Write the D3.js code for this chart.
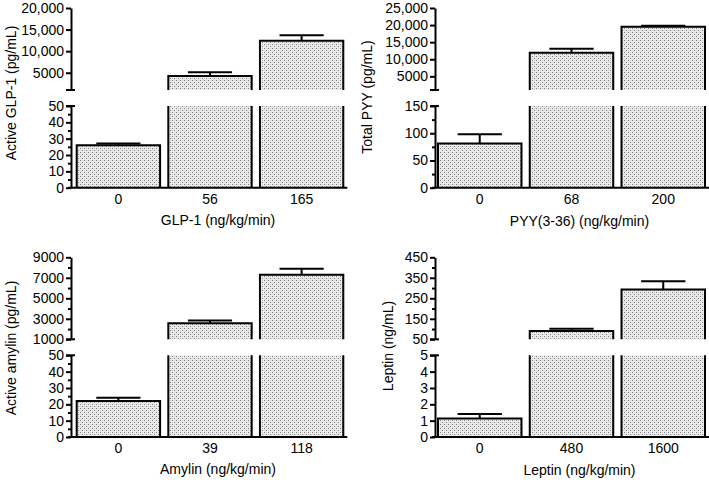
<!DOCTYPE html>
<html>
<head>
<meta charset="utf-8">
<script src="https://cdn.jsdelivr.net/npm/d3@7"></script>
<style>
  html, body { margin: 0; padding: 0; background: #fff; }
  svg { display: block; font-family: "Liberation Sans", Arial, Helvetica, sans-serif; }
</style>
</head>
<body>
<script>
// ---------- DATA ----------
const glpDose = ["0", "56", "165"];
const glpMean = [26, 4250, 12400];
const glpSem  = [1, 850, 1300];

const pyyDose = ["0", "68", "200"];
const pyyMean = [81, 11900, 19500];
const pyySem  = [17, 1170, 300];

const amyDose = ["0", "39", "118"];
const amyMean = [22, 2570, 7290];
const amySem  = [2, 260, 590];

const lepDose = ["0", "480", "1600"];
const lepMean = [1.13, 91, 293];
const lepSem  = [0.28, 11, 40];

// axis ticks (upper segment / lower segment)
const glpTopTicks = [5000, 10000, 15000, 20000];
const glpTopLabels = ["5000", "10,000", "15,000", "20,000"];
const glpTopMinor = [];
const glpBotTicks = [0, 10, 20, 30, 40, 50];
const glpBotMinor = [5, 15, 25, 35, 45];

const pyyTopTicks = [5000, 10000, 15000, 20000, 25000];
const pyyTopLabels = ["5000", "10,000", "15,000", "20,000", "25,000"];
const pyyTopMinor = [];
const pyyBotTicks = [0, 50, 100, 150];
const pyyBotMinor = [25, 75, 125];

const amyTopTicks = [1000, 3000, 5000, 7000, 9000];
const amyTopLabels = ["1000", "3000", "5000", "7000", "9000"];
const amyTopMinor = [2000, 4000, 6000, 8000];
const amyBotTicks = [0, 10, 20, 30, 40, 50];
const amyBotMinor = [5, 15, 25, 35, 45];

const lepTopTicks = [50, 150, 250, 350, 450];
const lepTopLabels = ["50", "150", "250", "350", "450"];
const lepTopMinor = [100, 200, 300, 400];
const lepBotTicks = [0, 1, 2, 3, 4, 5];
const lepBotMinor = [];

// ---------- LAYOUT ----------
const W = 709, H = 480;
const svg = d3.select("body").append("svg").attr("width", W).attr("height", H);

const defs = svg.append("defs");
const pat = defs.append("pattern").attr("id", "dots")
  .attr("patternUnits", "userSpaceOnUse").attr("width", 4).attr("height", 4);
pat.append("rect").attr("width", 4).attr("height", 4).attr("fill", "#ebebeb");
[[0, 0], [2, 2]].forEach(([px, py]) =>
  pat.append("rect").attr("x", px).attr("y", py).attr("width", 1).attr("height", 1).attr("fill", "#7e7e7e"));
[[2, 0], [0, 2]].forEach(([px, py]) =>
  pat.append("rect").attr("x", px).attr("y", py).attr("width", 1).attr("height", 1).attr("fill", "#d2d2d2"));

const panels = [
  { ox: 0, oy: 0, axisX: 71, bx0: 76.7, bx1: 343.3,
    cats: glpDose, mean: glpMean, sem: glpSem,
    topDomain: [1000, 20000], botDomain: [0, 50],
    topTicks: glpTopTicks, topLabels: glpTopLabels, topMinor: glpTopMinor,
    botTicks: glpBotTicks, botMinor: glpBotMinor,
    xTitle: "GLP-1 (ng/kg/min)", yTitle: "Active GLP-1 (pg/mL)", yTitleX: 15.5, yTitleY: 93, xTitleDy: 37 },
  { ox: 0, oy: 0, axisX: 435, bx0: 438, bx1: 705,
    cats: pyyDose, mean: pyyMean, sem: pyySem,
    topDomain: [1000, 25000], botDomain: [0, 150],
    topTicks: pyyTopTicks, topLabels: pyyTopLabels, topMinor: pyyTopMinor,
    botTicks: pyyBotTicks, botMinor: pyyBotMinor,
    xTitle: "PYY(3-36) (ng/kg/min)", yTitle: "Total PYY (pg/mL)", yTitleX: 372, yTitleY: 97, xTitleDy: 38.5 },
  { ox: 0, oy: 249.3, axisX: 71, bx0: 76.7, bx1: 343.3,
    cats: amyDose, mean: amyMean, sem: amySem,
    topDomain: [1000, 9000], botDomain: [0, 50],
    topTicks: amyTopTicks, topLabels: amyTopLabels, topMinor: amyTopMinor,
    botTicks: amyBotTicks, botMinor: amyBotMinor,
    xTitle: "Amylin (ng/kg/min)", yTitle: "Active amylin (pg/mL)", yTitleX: 15.5, yTitleY: 348, xTitleDy: 37 },
  { ox: 0, oy: 249.3, axisX: 435, bx0: 438, bx1: 705,
    cats: lepDose, mean: lepMean, sem: lepSem,
    topDomain: [50, 450], botDomain: [0, 5],
    topTicks: lepTopTicks, topLabels: lepTopLabels, topMinor: lepTopMinor,
    botTicks: lepBotTicks, botMinor: lepBotMinor,
    xTitle: "Leptin (ng/kg/min)", yTitle: "Leptin (ng/mL)", yTitleX: 393, yTitleY: 346, xTitleDy: 37.5 }
];

const FONT = 14;
const LW = 2;

panels.forEach(p => {
  const g = svg.append("g");
  const yTop = d3.scaleLinear().domain(p.topDomain).range([p.oy + 90, p.oy + 8]);
  const yBot = d3.scaleLinear().domain(p.botDomain).range([p.oy + 187.7, p.oy + 106]);
  const x = d3.scaleBand().domain(p.cats).range([p.bx0, p.bx1]).paddingInner(0.09).paddingOuter(0);
  const botMax = p.botDomain[1], topMin = p.topDomain[0];
  const yAxisBottom = yBot(0);

  // bars
  p.cats.forEach((c, i) => {
    const v = p.mean[i], e = p.sem[i];
    const x0 = x(c), x1 = x(c) + x.bandwidth(), xc = x(c) + x.bandwidth() / 2;
    if (v <= botMax) {
      g.append("rect").attr("x", x0).attr("y", yBot(v)).attr("width", x1 - x0)
        .attr("height", yBot(0) - yBot(v)).attr("fill", "url(#dots)");
      g.append("path").attr("d", `M${x0},${yBot(0)}V${yBot(v)}H${x1}V${yBot(0)}`)
        .attr("fill", "none").attr("stroke", "#000").attr("stroke-width", LW);
    } else {
      // lower piece
      g.append("rect").attr("x", x0).attr("y", yBot(botMax)).attr("width", x1 - x0)
        .attr("height", yBot(0) - yBot(botMax)).attr("fill", "url(#dots)");
      g.append("path").attr("d", `M${x0},${yBot(botMax)}V${yBot(0)}M${x1},${yBot(botMax)}V${yBot(0)}`)
        .attr("fill", "none").attr("stroke", "#000").attr("stroke-width", LW);
      // upper piece
      g.append("rect").attr("x", x0).attr("y", yTop(v)).attr("width", x1 - x0)
        .attr("height", yTop(topMin) - yTop(v)).attr("fill", "url(#dots)");
      g.append("path").attr("d", `M${x0},${yTop(topMin)}V${yTop(v)}H${x1}V${yTop(topMin)}`)
        .attr("fill", "none").attr("stroke", "#000").attr("stroke-width", LW);
    }
    // error bar (upper)
    const ys = v <= botMax ? yBot : yTop;
    const capW = x.bandwidth() * 0.53;
    g.append("path").attr("d", `M${xc},${ys(v)}V${ys(v + e)}M${xc - capW / 2},${ys(v + e)}H${xc + capW / 2}`)
      .attr("fill", "none").attr("stroke", "#000").attr("stroke-width", LW);
  });

  // y axes
  const styleAxis = sel => {
    sel.select(".domain").attr("stroke", "#000").attr("stroke-width", LW);
    sel.selectAll(".tick line").attr("stroke", "#000").attr("stroke-width", LW);
    sel.selectAll("text").attr("font-size", FONT).attr("fill", "#000")
      .attr("font-family", '"Liberation Sans", Arial, sans-serif');
  };
  const topAxis = g.append("g").attr("transform", `translate(${p.axisX},0)`)
    .call(d3.axisLeft(yTop).tickValues(p.topTicks).tickFormat((d, i) => p.topLabels[i])
      .tickSize(5).tickSizeOuter(0).tickPadding(2));
  styleAxis(topAxis);
  const topMinorAxis = g.append("g").attr("transform", `translate(${p.axisX},0)`)
    .call(d3.axisLeft(yTop).tickValues(p.topMinor).tickFormat("").tickSize(3).tickSizeOuter(0));
  topMinorAxis.select(".domain").remove();
  styleAxis(topMinorAxis);

  const botAxis = g.append("g").attr("transform", `translate(${p.axisX},0)`)
    .call(d3.axisLeft(yBot).tickValues(p.botTicks).tickFormat(d3.format("d"))
      .tickSize(5).tickSizeOuter(0).tickPadding(2));
  styleAxis(botAxis);
  const botMinorAxis = g.append("g").attr("transform", `translate(${p.axisX},0)`)
    .call(d3.axisLeft(yBot).tickValues(p.botMinor).tickFormat("").tickSize(3).tickSizeOuter(0));
  botMinorAxis.select(".domain").remove();
  styleAxis(botMinorAxis);

  // break end marks
  [yTop(topMin), yBot(botMax)].forEach(yy => {
    g.append("line").attr("x1", p.axisX - 5).attr("x2", p.axisX + 4)
      .attr("y1", yy).attr("y2", yy).attr("stroke", "#000").attr("stroke-width", LW);
  });

  // x axis
  const xAxis = g.append("g").attr("transform", `translate(0,${yAxisBottom})`)
    .call(d3.axisBottom(x).tickSize(0).tickPadding(6));
  xAxis.select(".domain").remove();
  xAxis.selectAll("text").attr("font-size", FONT).attr("fill", "#000")
    .attr("font-family", '"Liberation Sans", Arial, sans-serif');
  g.append("line").attr("x1", p.axisX - 3).attr("x2", p.bx1 + 4)
    .attr("y1", yAxisBottom).attr("y2", yAxisBottom)
    .attr("stroke", "#000").attr("stroke-width", LW);

  // titles
  g.append("text").attr("x", (p.bx0 + p.bx1) / 2 + 8).attr("y", yAxisBottom + p.xTitleDy)
    .attr("text-anchor", "middle").attr("font-size", FONT).attr("fill", "#000").text(p.xTitle);
  g.append("text").attr("transform", `translate(${p.yTitleX},${p.yTitleY}) rotate(-90)`)
    .attr("text-anchor", "middle").attr("font-size", FONT).attr("fill", "#000").text(p.yTitle);
});
</script>
</body>
</html>
